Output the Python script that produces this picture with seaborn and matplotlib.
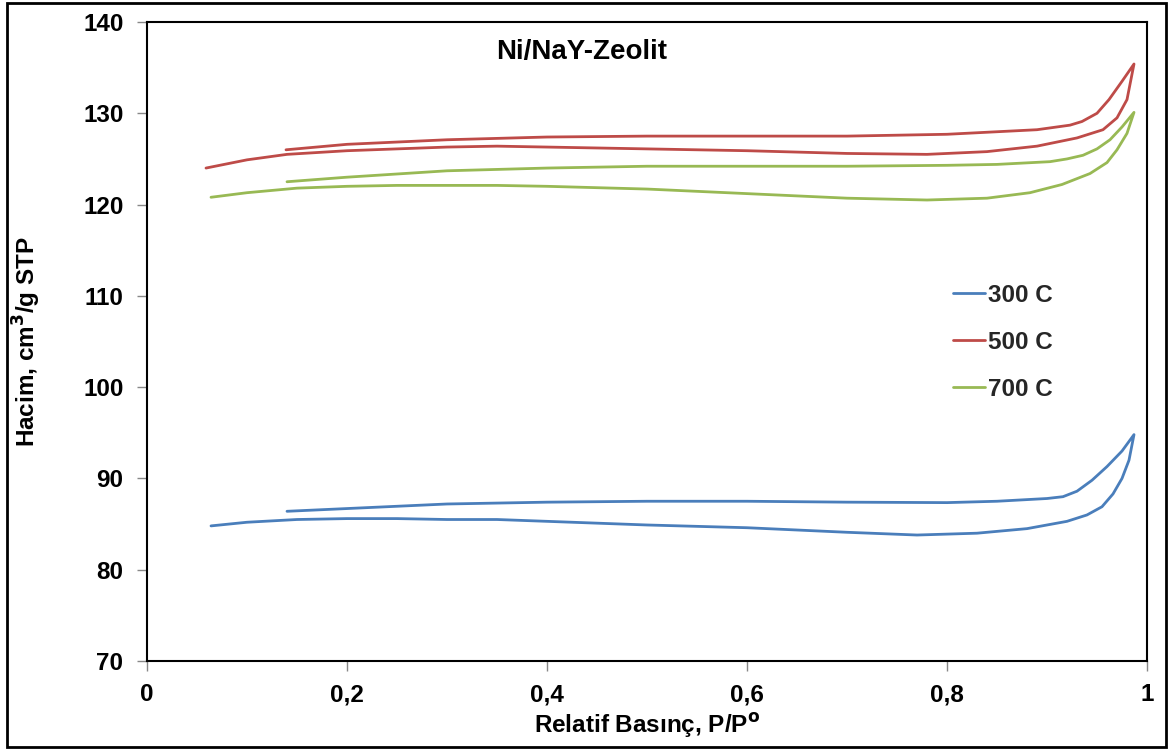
import numpy as np
import pandas as pd
import matplotlib
matplotlib.use("Agg")
import matplotlib.pyplot as plt
import seaborn as sns
from matplotlib.patches import Rectangle

# ---- data ----
series_names = ["300 C", "500 C", "700 C"]

x300_ads = [0.064, 0.10, 0.15, 0.20, 0.25, 0.30, 0.35, 0.40, 0.50, 0.60, 0.70, 0.77, 0.83, 0.88, 0.92, 0.94, 0.955, 0.966, 0.975, 0.982, 0.987]
y300_ads = [84.8, 85.2, 85.5, 85.6, 85.6, 85.5, 85.5, 85.3, 84.9, 84.6, 84.1, 83.8, 84.0, 84.5, 85.3, 86.0, 86.9, 88.3, 90.0, 92.0, 94.8]
x300_des = [0.987, 0.975, 0.96, 0.945, 0.93, 0.916, 0.90, 0.85, 0.80, 0.70, 0.60, 0.50, 0.40, 0.30, 0.20, 0.14]
y300_des = [94.8, 93.0, 91.3, 89.8, 88.6, 88.0, 87.8, 87.5, 87.35, 87.4, 87.5, 87.5, 87.4, 87.2, 86.7, 86.4]

x500_ads = [0.059, 0.10, 0.14, 0.20, 0.25, 0.30, 0.35, 0.40, 0.50, 0.60, 0.70, 0.78, 0.84, 0.89, 0.93, 0.956, 0.97, 0.98, 0.987]
y500_ads = [124.0, 124.9, 125.5, 125.9, 126.1, 126.3, 126.4, 126.3, 126.1, 125.9, 125.6, 125.5, 125.8, 126.4, 127.3, 128.2, 129.5, 131.5, 135.4]
x500_des = [0.987, 0.975, 0.962, 0.95, 0.935, 0.923, 0.89, 0.80, 0.70, 0.60, 0.50, 0.40, 0.30, 0.20, 0.139]
y500_des = [135.4, 133.5, 131.5, 130.0, 129.1, 128.7, 128.2, 127.7, 127.5, 127.5, 127.5, 127.4, 127.1, 126.6, 126.0]

x700_ads = [0.064, 0.10, 0.15, 0.20, 0.25, 0.30, 0.35, 0.40, 0.50, 0.60, 0.70, 0.78, 0.84, 0.883, 0.915, 0.943, 0.96, 0.97, 0.98, 0.987]
y700_ads = [120.8, 121.3, 121.8, 122.0, 122.1, 122.1, 122.1, 122.0, 121.7, 121.2, 120.7, 120.5, 120.7, 121.3, 122.2, 123.4, 124.6, 126.0, 127.8, 130.1]
x700_des = [0.987, 0.975, 0.963, 0.95, 0.936, 0.92, 0.903, 0.85, 0.80, 0.70, 0.60, 0.50, 0.40, 0.30, 0.20, 0.14]
y700_des = [130.1, 128.5, 127.1, 126.1, 125.4, 125.0, 124.7, 124.4, 124.3, 124.2, 124.2, 124.2, 124.0, 123.7, 123.0, 122.5]

x_ticks = [0, 0.2, 0.4, 0.6, 0.8, 1.0]
x_ticklabels = ["0", "0,2", "0,4", "0,6", "0,8", "1"]
y_ticks = [70, 80, 90, 100, 110, 120, 130, 140]

colors = {"300 C": "#4A7EBB", "500 C": "#BE4B48", "700 C": "#98B954"}

# ---- build long-form table ----
frames = []
for name, xa, ya, xd, yd in [
    ("300 C", x300_ads, y300_ads, x300_des, y300_des),
    ("500 C", x500_ads, y500_ads, x500_des, y500_des),
    ("700 C", x700_ads, y700_ads, x700_des, y700_des),
]:
    xs = list(xa) + list(xd)
    ys = list(ya) + list(yd)
    frames.append(pd.DataFrame({"x": xs, "y": ys, "series": name, "order": range(len(xs))}))
df = pd.concat(frames, ignore_index=True)

sns.set_theme(style="white")
plt.rcParams["font.family"] = ["Liberation Sans", "DejaVu Sans"]
plt.rcParams["font.weight"] = "bold"

FS = 17.5

fig = plt.figure(figsize=(11.69, 7.49), dpi=100)
ax = fig.add_axes([147 / 1169, 1 - 661 / 749, 1000 / 1169, 639 / 749])

sns.lineplot(data=df, x="x", y="y", hue="series", hue_order=series_names,
             palette=colors, sort=False, estimator=None, linewidth=2.0, ax=ax)

ax.set_xlim(0, 1)
ax.set_ylim(70, 140)
ax.set_xticks(x_ticks)
ax.set_xticklabels(x_ticklabels)
ax.set_yticks(y_ticks)
for lab in ax.get_xticklabels() + ax.get_yticklabels():
    lab.set_fontsize(FS)
    lab.set_fontweight("bold")
    lab.set_color("black")
ax.tick_params(axis="both", which="major", direction="out", length=7, width=1,
               color="#888888", bottom=True, left=True)
ax.tick_params(axis="y", pad=10)
ax.tick_params(axis="x", pad=9)

for sp in ax.spines.values():
    sp.set_color("black")
    sp.set_linewidth(1.5)

ax.set_xlabel("Relatif Basınç, P/P$^{\\mathbf{o}}$", fontsize=FS, fontweight="bold", color="black")
ax.set_ylabel("Hacim, cm$^{\\mathbf{3}}$/g STP", fontsize=FS, fontweight="bold", color="black")
ax.xaxis.set_label_coords(0.5, -0.079)
ax.yaxis.set_label_coords(-0.104, 0.5)

ax.text(0.435, 0.953, "Ni/NaY-Zeolit", transform=ax.transAxes, ha="center", va="center",
        fontsize=20, fontweight="bold", color="black")

leg = ax.legend(loc="upper left", bbox_to_anchor=(0.806, 0.590), frameon=False,
                handlelength=1.32, handletextpad=0.12, labelspacing=0.98, borderpad=0,
                borderaxespad=0, prop={"size": FS, "weight": "bold"})
for line in leg.get_lines():
    line.set_linewidth(2.0)

fig.patches.append(Rectangle((7 / 1169, 2 / 749), 1159 / 1169, 744 / 749,
                             transform=fig.transFigure, fill=False,
                             edgecolor="black", linewidth=2))

fig.savefig("out.png", dpi=100)
